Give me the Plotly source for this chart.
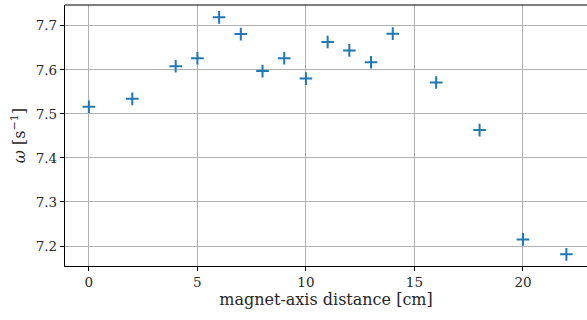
import plotly.graph_objects as go

distance_cm = [0, 2, 4, 5, 6, 7, 8, 9, 10, 11, 12, 13, 14, 16, 18, 20, 22]
omega = [7.516, 7.534, 7.608, 7.626, 7.719, 7.681, 7.597, 7.626, 7.580,
         7.663, 7.644, 7.617, 7.682, 7.571, 7.463, 7.215, 7.181]
x_ticks = [0, 5, 10, 15, 20]
y_ticks = [7.2, 7.3, 7.4, 7.5, 7.6, 7.7]

FONT = "DejaVu Serif"

fig = go.Figure()
fig.add_trace(go.Scatter(
    x=distance_cm, y=omega, mode="markers",
    marker=dict(symbol="cross-thin", size=9, color="#1f77b4",
                line=dict(color="#1f77b4", width=2)),
    showlegend=False,
))

fig.update_layout(
    width=587, height=320,
    margin=dict(l=65, r=0, t=5, b=54),
    paper_bgcolor="white", plot_bgcolor="white",
    font=dict(family=FONT, size=13.5, color="#262626"),
    xaxis=dict(
        range=[-1.1, 22.95], tickvals=x_ticks, ticktext=[str(v) for v in x_ticks],
        showgrid=True, gridcolor="#b0b0b0", gridwidth=1,
        showline=True, linecolor="black", linewidth=1.2,
        ticks="outside", ticklen=4, tickcolor="black", zeroline=False,
        automargin=False,
        title=dict(text="magnet-axis distance [cm]", standoff=4),
    ),
    yaxis=dict(
        range=[7.1546, 7.747], tickvals=y_ticks, ticktext=[f"{v:.1f}" for v in y_ticks],
        showgrid=True, gridcolor="#b0b0b0", gridwidth=1,
        showline=True, linecolor="black", linewidth=1.2,
        ticks="outside", ticklen=4, tickcolor="black", zeroline=False,
        automargin=False,
        title=dict(text="<i>ω</i> [s<sup>−1</sup>]", standoff=6),
    ),
    shapes=[dict(type="line", xref="paper", yref="paper", x0=0, x1=1, y0=1, y1=1,
                 line=dict(color="black", width=1.2))],
)

fig.write_html("out.html", config={"displayModeBar": False},
               post_script="document.body.style.margin='0';")
